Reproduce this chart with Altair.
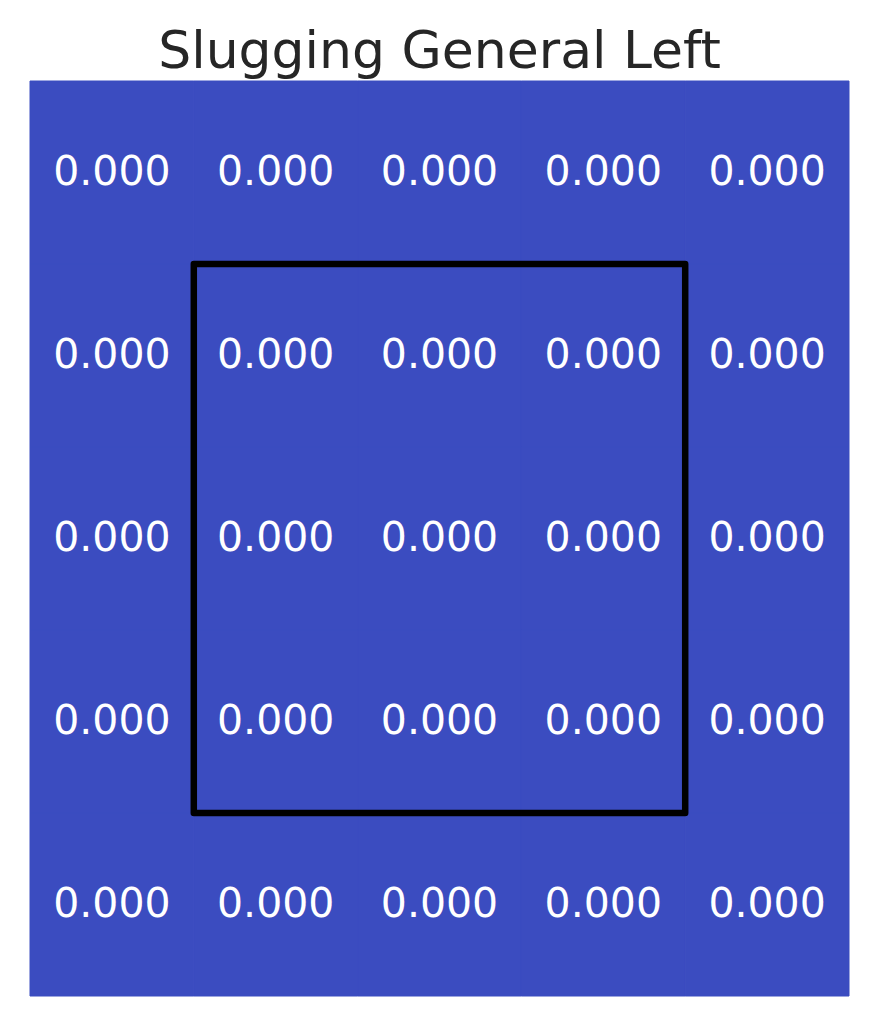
import altair as alt
import pandas as pd

cols = [0, 1, 2, 3, 4]
rows = [0, 1, 2, 3, 4]
values = [
    [0.0, 0.0, 0.0, 0.0, 0.0],
    [0.0, 0.0, 0.0, 0.0, 0.0],
    [0.0, 0.0, 0.0, 0.0, 0.0],
    [0.0, 0.0, 0.0, 0.0, 0.0],
    [0.0, 0.0, 0.0, 0.0, 0.0],
]
zone_x = [1, 4]
zone_y = [1, 4]

records = []
for r in rows:
    for c in cols:
        records.append({"x": c, "x2": c + 1, "xc": c + 0.5,
                        "y": r, "y2": r + 1, "yc": r + 0.5,
                        "v": values[r][c], "label": f"{values[r][c]:.3f}"})
df = pd.DataFrame(records)
zone = pd.DataFrame([{"x": zone_x[0], "x2": zone_x[1], "y": zone_y[0], "y2": zone_y[1]}])

xs = alt.Scale(domain=[0, 5], nice=False, zero=False)
ys = alt.Scale(domain=[0, 5], nice=False, zero=False, reverse=True)
noax = None
cscale = alt.Scale(domain=[0, 1], range=["#3b4cc0", "#b40426"])

cells = alt.Chart(df).mark_rect(strokeWidth=1).encode(
    x=alt.X("x:Q", scale=xs, axis=noax),
    x2="x2:Q",
    y=alt.Y("y:Q", scale=ys, axis=noax),
    y2="y2:Q",
    color=alt.Color("v:Q", scale=cscale, legend=None),
    stroke=alt.Stroke("v:Q", scale=cscale, legend=None),
)

text = alt.Chart(df).mark_text(font="DejaVu Sans", fontSize=41, color="white",
                                baseline="middle", align="center").encode(
    x=alt.X("xc:Q", scale=xs, axis=noax),
    y=alt.Y("yc:Q", scale=ys, axis=noax),
    text="label:N",
)

box = alt.Chart(zone).mark_rect(fill=None, stroke="black", strokeWidth=6.5,
                                 strokeJoin="round").encode(
    x=alt.X("x:Q", scale=xs, axis=noax),
    x2="x2:Q",
    y=alt.Y("y:Q", scale=ys, axis=noax),
    y2="y2:Q",
)

chart = alt.layer(cells, text, box).properties(
    width=819, height=915,
    title=alt.TitleParams("Slugging General Left", font="DejaVu Sans", fontSize=52,
                          fontWeight="normal", color="#262626", anchor="middle",
                          baseline="alphabetic", offset=11, dy=50),
    autosize=alt.AutoSizeParams(type="none"),
    padding={"left": 30, "top": 81, "right": 30, "bottom": 31},
).configure_view(stroke=None)

chart.save("out.html", embed_options={"renderer": "svg", "actions": False})
